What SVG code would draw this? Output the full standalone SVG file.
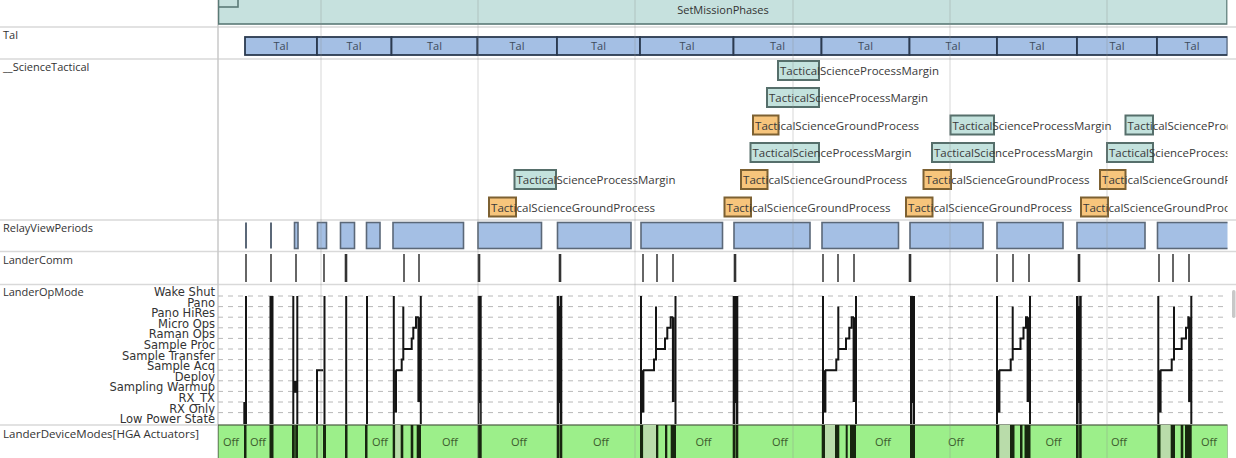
<svg xmlns="http://www.w3.org/2000/svg" width="1236" height="458" viewBox="0 0 1236 458">
<defs>
<clipPath id="plot"><rect x="218" y="-5" width="1009.5" height="470"/></clipPath>
<style>
.lbl{font-family:"Open Sans","Liberation Sans",sans-serif;font-size:11px;fill:#333}
.st{font-family:"DejaVu Sans","Liberation Sans",sans-serif;font-size:11.5px;fill:#333;text-anchor:end}
.sep{stroke:#d9d9d9;stroke-width:1.5}
.tal rect{fill:#a4bfe4;stroke:#2b3a4f;stroke-width:1.8}
.tal text{font-family:"Open Sans","Liberation Sans",sans-serif;font-size:11px;fill:#3d4b5c;text-anchor:middle}
.tm{fill:#c3e2dd;stroke:#566f6b;stroke-width:2}
.tg{fill:#f7c57c;stroke:#7d6132;stroke-width:2}
.bt{font-family:"Open Sans","Liberation Sans",sans-serif;font-size:11px;fill:#3a3a3a}
.rv{fill:#a4bfe4;stroke:#5b6878;stroke-width:1.6}
.rl{stroke:#5b6878;stroke-width:2}
.ck{stroke:#666;stroke-width:2}
.ckd{stroke:#333;stroke-width:2.6}
.dash{stroke:#b8b8b8;stroke-width:1;stroke-dasharray:5 5}
.op{stroke:#151515;stroke-width:2;fill:none}
.opt{stroke:#151515;stroke-width:2.8;fill:none}
.blk{fill:#151515}
.dk{fill:#17260f}
.lt{fill:#b9dcaa}
.inl{stroke:#9a9a9a;stroke-width:1}
.ing{stroke:#4f7a40;stroke-width:1}
.off{font-family:"Open Sans","Liberation Sans",sans-serif;font-size:11px;fill:#3b5a2c;text-anchor:middle}
.grid{stroke:#8a8a8a;stroke-opacity:0.35;stroke-width:1}
</style>
</defs>
<rect x="0" y="0" width="1236" height="458" fill="#ffffff"/>

<!-- row separators and label column -->
<g id="frame">
<line class="sep" x1="0" y1="27" x2="1236" y2="27"/>
<line class="sep" x1="0" y1="59" x2="1236" y2="59"/>
<line class="sep" x1="0" y1="220" x2="1236" y2="220"/>
<line class="sep" x1="0" y1="251.5" x2="1236" y2="251.5"/>
<line class="sep" x1="0" y1="284.5" x2="1236" y2="284.5"/>
<line class="sep" x1="0" y1="425" x2="218" y2="425"/>
<line x1="218" y1="0" x2="218" y2="458" stroke="#c8c8c8" stroke-width="1.5"/>
</g>

<g id="row-labels">
<text class="lbl" x="3" y="39">Tal</text>
<text class="lbl" x="3" y="71">__ScienceTactical</text>
<text class="lbl" x="3" y="232">RelayViewPeriods</text>
<text class="lbl" x="3" y="264">LanderComm</text>
<text class="lbl" x="3" y="296">LanderOpMode</text>
<text class="lbl" x="3" y="438" textLength="196" lengthAdjust="spacingAndGlyphs">LanderDeviceModes[HGA Actuators]</text>
</g>

<g id="state-labels">
<text class="st" x="215" y="296">Wake Shut</text>
<text class="st" x="215" y="306.6">Pano</text>
<text class="st" x="215" y="317.2">Pano HiRes</text>
<text class="st" x="215" y="327.8">Micro Ops</text>
<text class="st" x="215" y="338.4">Raman Ops</text>
<text class="st" x="215" y="349">Sample Proc</text>
<text class="st" x="215" y="359.6">Sample Transfer</text>
<text class="st" x="215" y="370.2">Sample Acq</text>
<text class="st" x="215" y="380.8">Deploy</text>
<text class="st" x="215" y="391.4">Sampling Warmup</text>
<text class="st" x="215" y="402">RX_TX</text>
<text class="st" x="215" y="412.6">RX Only</text>
<text class="st" x="215" y="423.2">Low Power State</text>
</g>

<g clip-path="url(#plot)">
<!-- SetMissionPhases -->
<g id="setmissionphases">
<rect x="218.5" y="-3" width="1008.5" height="27" fill="#c6e1de" stroke="#5a7a76" stroke-width="1.6"/>
<rect x="218.5" y="-3" width="19.5" height="10" fill="#c6e1de" stroke="#5a7a76" stroke-width="1.6"/>
<text class="lbl" x="723" y="14" text-anchor="middle">SetMissionPhases</text>
</g>

<!-- Tal -->
<g id="tal" class="tal">
<g id="tal-1"><rect x="245" y="37" width="72" height="18"/><text x="281" y="50">Tal</text></g>
<g id="tal-2"><rect x="317" y="37" width="74.5" height="18"/><text x="354" y="50">Tal</text></g>
<g id="tal-3"><rect x="391.5" y="37" width="86" height="18"/><text x="434.5" y="50">Tal</text></g>
<g id="tal-4"><rect x="477.5" y="37" width="79.5" height="18"/><text x="517" y="50">Tal</text></g>
<g id="tal-5"><rect x="557" y="37" width="83" height="18"/><text x="598.5" y="50">Tal</text></g>
<g id="tal-6"><rect x="640" y="37" width="93.5" height="18"/><text x="687" y="50">Tal</text></g>
<g id="tal-7"><rect x="733.5" y="37" width="88" height="18"/><text x="777.5" y="50">Tal</text></g>
<g id="tal-8"><rect x="821.5" y="37" width="88" height="18"/><text x="865.5" y="50">Tal</text></g>
<g id="tal-9"><rect x="909.5" y="37" width="87.5" height="18"/><text x="953" y="50">Tal</text></g>
<g id="tal-10"><rect x="997" y="37" width="80" height="18"/><text x="1037" y="50">Tal</text></g>
<g id="tal-11"><rect x="1077" y="37" width="80" height="18"/><text x="1117" y="50">Tal</text></g>
<g id="tal-12"><rect x="1157" y="37" width="70.5" height="18"/><text x="1192" y="50">Tal</text></g>
</g>

<!-- ScienceTactical -->
<g id="science-tactical">
<g id="stm-1"><rect class="tm" x="778" y="61" width="41" height="19"/><text class="bt" x="780" y="75" textLength="159" lengthAdjust="spacingAndGlyphs">TacticalScienceProcessMargin</text></g>
<g id="stm-2"><rect class="tm" x="767" y="88" width="52" height="19"/><text class="bt" x="769" y="102" textLength="159" lengthAdjust="spacingAndGlyphs">TacticalScienceProcessMargin</text></g>
<g id="stg-1"><rect class="tg" x="753" y="115.5" width="25.5" height="19"/><text class="bt" x="755" y="129.5" textLength="164" lengthAdjust="spacingAndGlyphs">TacticalScienceGroundProcess</text></g>
<g id="stm-3"><rect class="tm" x="950.5" y="115.5" width="43.5" height="19"/><text class="bt" x="952.5" y="129.5" textLength="159" lengthAdjust="spacingAndGlyphs">TacticalScienceProcessMargin</text></g>
<g id="stm-4"><rect class="tm" x="1125.5" y="115.5" width="27.5" height="19"/><text class="bt" x="1127.5" y="129.5" textLength="159" lengthAdjust="spacingAndGlyphs">TacticalScienceProcessMargin</text></g>
<g id="stm-5"><rect class="tm" x="750.5" y="143" width="68.5" height="19"/><text class="bt" x="752.5" y="157" textLength="159" lengthAdjust="spacingAndGlyphs">TacticalScienceProcessMargin</text></g>
<g id="stm-6"><rect class="tm" x="932" y="143" width="62" height="19"/><text class="bt" x="934" y="157" textLength="159" lengthAdjust="spacingAndGlyphs">TacticalScienceProcessMargin</text></g>
<g id="stm-7"><rect class="tm" x="1107" y="143" width="46" height="19"/><text class="bt" x="1109" y="157" textLength="159" lengthAdjust="spacingAndGlyphs">TacticalScienceProcessMargin</text></g>
<g id="stm-8"><rect class="tm" x="514.5" y="170" width="41.5" height="19"/><text class="bt" x="516.5" y="184" textLength="159" lengthAdjust="spacingAndGlyphs">TacticalScienceProcessMargin</text></g>
<g id="stg-2"><rect class="tg" x="741" y="170" width="26.5" height="19"/><text class="bt" x="743" y="184" textLength="164" lengthAdjust="spacingAndGlyphs">TacticalScienceGroundProcess</text></g>
<g id="stg-3"><rect class="tg" x="923.5" y="170" width="27.5" height="19"/><text class="bt" x="925.5" y="184" textLength="164" lengthAdjust="spacingAndGlyphs">TacticalScienceGroundProcess</text></g>
<g id="stg-4"><rect class="tg" x="1100" y="170" width="25.5" height="19"/><text class="bt" x="1102" y="184" textLength="164" lengthAdjust="spacingAndGlyphs">TacticalScienceGroundProcess</text></g>
<g id="stg-5"><rect class="tg" x="489" y="197.5" width="27" height="19"/><text class="bt" x="491" y="211.5" textLength="164" lengthAdjust="spacingAndGlyphs">TacticalScienceGroundProcess</text></g>
<g id="stg-6"><rect class="tg" x="724.5" y="197.5" width="26.5" height="19"/><text class="bt" x="726.5" y="211.5" textLength="164" lengthAdjust="spacingAndGlyphs">TacticalScienceGroundProcess</text></g>
<g id="stg-7"><rect class="tg" x="906" y="197.5" width="26.5" height="19"/><text class="bt" x="908" y="211.5" textLength="164" lengthAdjust="spacingAndGlyphs">TacticalScienceGroundProcess</text></g>
<g id="stg-8"><rect class="tg" x="1081" y="197.5" width="27" height="19"/><text class="bt" x="1083" y="211.5" textLength="164" lengthAdjust="spacingAndGlyphs">TacticalScienceGroundProcess</text></g>
</g>

<!-- RelayViewPeriods -->
<g id="relay-view-periods">
<line class="rl" x1="246" y1="222.5" x2="246" y2="248.5"/>
<line class="rl" x1="271" y1="222.5" x2="271" y2="248.5"/>
<rect class="rv" x="294.5" y="222.5" width="3.5" height="26"/>
<rect class="rv" x="317.5" y="222.5" width="9" height="26"/>
<rect class="rv" x="340.5" y="222.5" width="14" height="26"/>
<rect class="rv" x="366.5" y="222.5" width="13.5" height="26"/>
<rect class="rv" x="393" y="222.5" width="70.5" height="26"/>
<rect class="rv" x="478" y="222.5" width="63.5" height="26"/>
<rect class="rv" x="557.5" y="222.5" width="73.5" height="26"/>
<rect class="rv" x="641" y="222.5" width="81.5" height="26"/>
<rect class="rv" x="734" y="222.5" width="76" height="26"/>
<rect class="rv" x="822" y="222.5" width="76.5" height="26"/>
<rect class="rv" x="910" y="222.5" width="73" height="26"/>
<rect class="rv" x="997" y="222.5" width="66" height="26"/>
<rect class="rv" x="1077" y="222.5" width="68" height="26"/>
<rect class="rv" x="1157.5" y="222.5" width="72" height="26"/>
</g>

<!-- LanderComm -->
<g id="lander-comm">
<line class="ck" x1="246" y1="254" x2="246" y2="282"/>
<line class="ck" x1="271" y1="254" x2="271" y2="282"/>
<line class="ck" x1="296" y1="254" x2="296" y2="282"/>
<line class="ck" x1="324" y1="254" x2="324" y2="282"/>
<line class="ckd" x1="346" y1="254" x2="346" y2="282"/>
<line class="ck" x1="404" y1="254" x2="404" y2="282"/>
<line class="ck" x1="419" y1="254" x2="419" y2="282"/>
<line class="ckd" x1="479" y1="254" x2="479" y2="282"/>
<line class="ckd" x1="560" y1="254" x2="560" y2="282"/>
<line class="ck" x1="643" y1="254" x2="643" y2="282"/>
<line class="ck" x1="657" y1="254" x2="657" y2="282"/>
<line class="ck" x1="673" y1="254" x2="673" y2="282"/>
<line class="ckd" x1="735" y1="254" x2="735" y2="282"/>
<line class="ck" x1="823" y1="254" x2="823" y2="282"/>
<line class="ck" x1="838" y1="254" x2="838" y2="282"/>
<line class="ck" x1="854" y1="254" x2="854" y2="282"/>
<line class="ckd" x1="910" y1="254" x2="910" y2="282"/>
<line class="ck" x1="997" y1="254" x2="997" y2="282"/>
<line class="ck" x1="1013" y1="254" x2="1013" y2="282"/>
<line class="ck" x1="1029" y1="254" x2="1029" y2="282"/>
<line class="ckd" x1="1079" y1="254" x2="1079" y2="282"/>
<line class="ck" x1="1159" y1="254" x2="1159" y2="282"/>
<line class="ck" x1="1173" y1="254" x2="1173" y2="282"/>
<line class="ck" x1="1189" y1="254" x2="1189" y2="282"/>
</g>

<!-- LanderOpMode grid -->
<g id="opmode-grid">
<line class="dash" x1="218" y1="296" x2="1228" y2="296"/>
<line class="dash" x1="218" y1="306.6" x2="1228" y2="306.6"/>
<line class="dash" x1="218" y1="317.2" x2="1228" y2="317.2"/>
<line class="dash" x1="218" y1="327.8" x2="1228" y2="327.8"/>
<line class="dash" x1="218" y1="338.4" x2="1228" y2="338.4"/>
<line class="dash" x1="218" y1="349" x2="1228" y2="349"/>
<line class="dash" x1="218" y1="359.6" x2="1228" y2="359.6"/>
<line class="dash" x1="218" y1="370.2" x2="1228" y2="370.2"/>
<line class="dash" x1="218" y1="380.8" x2="1228" y2="380.8"/>
<line class="dash" x1="218" y1="391.4" x2="1228" y2="391.4"/>
<line class="dash" x1="218" y1="402" x2="1228" y2="402"/>
<line class="dash" x1="218" y1="412.6" x2="1228" y2="412.6"/>
</g>

<!-- LanderDeviceModes -->
<g id="lander-device-modes">
<rect x="218" y="425" width="1010" height="36" fill="#9cef8a" stroke="#4a5a40" stroke-width="1.2"/>
<rect class="dk" x="244" y="425" width="2.5" height="33"/>
<rect class="dk" x="269.5" y="425" width="4" height="33"/>
<rect class="dk" x="292" y="425" width="6" height="33"/>
<rect x="316" y="425" width="2" height="33" fill="#6a9a5a"/>
<rect class="dk" x="323" y="425" width="3" height="33"/>
<rect class="dk" x="345" y="425" width="2.5" height="33"/>
<rect class="dk" x="365" y="425" width="2.5" height="33"/>
<rect class="dk" x="392.7" y="425" width="2.6" height="33"/>
<rect class="lt" x="395.3" y="425" width="5.4" height="33"/>
<rect class="dk" x="400.7" y="425" width="2.6" height="33"/>
<rect class="dk" x="410.7" y="425" width="2.6" height="33"/>
<rect class="dk" x="416.7" y="425" width="4.3" height="33"/>
<rect class="dk" x="477.7" y="425" width="4" height="33"/>
<rect class="dk" x="556.7" y="425" width="5.6" height="33"/>
<rect class="dk" x="640" y="425" width="3.3" height="33"/>
<rect class="lt" x="643.3" y="425" width="12.7" height="33"/>
<rect class="dk" x="656" y="425" width="2.3" height="33"/>
<rect class="dk" x="665" y="425" width="2.3" height="33"/>
<rect class="dk" x="670.7" y="425" width="5.3" height="33"/>
<rect class="dk" x="732.7" y="425" width="5.6" height="33"/>
<rect class="dk" x="821.7" y="425" width="3.3" height="33"/>
<rect class="lt" x="825" y="425" width="10" height="33"/>
<rect class="dk" x="835" y="425" width="4.3" height="33"/>
<rect class="dk" x="845.7" y="425" width="2" height="33"/>
<rect class="dk" x="850" y="425" width="6" height="33"/>
<rect class="dk" x="910" y="425" width="5" height="33"/>
<rect class="dk" x="996" y="425" width="3.5" height="33"/>
<rect class="lt" x="999.5" y="425" width="10.5" height="33"/>
<rect class="dk" x="1010" y="425" width="4.5" height="33"/>
<rect class="dk" x="1020" y="425" width="2.5" height="33"/>
<rect class="dk" x="1024.5" y="425" width="6" height="33"/>
<rect class="dk" x="1076" y="425" width="5.7" height="33"/>
<rect class="dk" x="1157.3" y="425" width="3.4" height="33"/>
<rect class="lt" x="1160.7" y="425" width="10" height="33"/>
<rect class="dk" x="1170.7" y="425" width="4.3" height="33"/>
<rect class="dk" x="1180.7" y="425" width="2.6" height="33"/>
<rect class="dk" x="1185" y="425" width="6.7" height="33"/>
<line class="ing" x1="295" y1="425" x2="295" y2="458"/>
<line class="ing" x1="559.5" y1="425" x2="559.5" y2="458"/>
<line class="ing" x1="735.5" y1="425" x2="735.5" y2="458"/>
<line class="ing" x1="1078.8" y1="425" x2="1078.8" y2="458"/>
<text class="off" x="231" y="446">Off</text>
<text class="off" x="258" y="446">Off</text>
<text class="off" x="380" y="446">Off</text>
<text class="off" x="450" y="446">Off</text>
<text class="off" x="519" y="446">Off</text>
<text class="off" x="601" y="446">Off</text>
<text class="off" x="703.5" y="446">Off</text>
<text class="off" x="780" y="446">Off</text>
<text class="off" x="883" y="446">Off</text>
<text class="off" x="956" y="446">Off</text>
<text class="off" x="1053.5" y="446">Off</text>
<text class="off" x="1119" y="446">Off</text>
<text class="off" x="1209" y="446">Off</text>
</g>

<!-- LanderOpMode traces -->
<g id="connectors">
<line class="op" x1="246" y1="296" x2="246" y2="424" stroke-width="1.6"/>
<line class="op" x1="244.3" y1="402" x2="244.3" y2="424" stroke-width="1.6"/>
<rect class="blk" x="269.5" y="296" width="4" height="128"/>
<line class="op" x1="293.3" y1="296" x2="293.3" y2="424" stroke-width="1.6"/>
<line class="op" x1="297.3" y1="296" x2="297.3" y2="424" stroke-width="1.6"/>
<rect class="blk" x="293.3" y="380.8" width="4" height="12"/>
<path class="op" d="M317 424 V370.2 H323" stroke-width="1.6"/>
<line class="op" x1="324.5" y1="296" x2="324.5" y2="424"/>
<line class="op" x1="346.2" y1="296" x2="346.2" y2="424" stroke-width="2.6"/>
<line class="op" x1="367" y1="296" x2="367" y2="424" stroke-width="1.8"/>

<line class="op" x1="393.8" y1="296" x2="393.8" y2="424"/>
<line class="opt" x1="395.6" y1="370.2" x2="395.6" y2="412.6"/>
<path class="op" d="M395.6 370.2 H401.7 V359.6 H403.3 V306.6 V349 H411.7 V338.4 H413.3 V327.8 H416 V317.2 H418.8" stroke-width="1.6"/>
<line class="opt" x1="418.8" y1="317.2" x2="418.8" y2="402"/>
<line class="op" x1="420.8" y1="296" x2="420.8" y2="424"/>

<rect class="blk" x="477.7" y="296" width="4" height="128"/>
<line class="inl" x1="479.7" y1="403" x2="479.7" y2="424"/>
<rect class="blk" x="556.7" y="296" width="5.6" height="128"/>
<line class="inl" x1="559.5" y1="296" x2="559.5" y2="306"/>
<line class="inl" x1="559.5" y1="403" x2="559.5" y2="424"/>

<line class="op" x1="641" y1="296" x2="641" y2="424"/>
<line class="opt" x1="643" y1="370.2" x2="643" y2="412.6"/>
<path class="op" d="M643 370.2 H654 V359.6 H656 V306.6 V349 H665 V338.4 H667.3 V327.8 H670.7 V317.2 H673.3" stroke-width="1.6"/>
<line class="opt" x1="673.3" y1="317.2" x2="673.3" y2="402"/>
<line class="op" x1="675.5" y1="296" x2="675.5" y2="424"/>

<rect class="blk" x="732.7" y="296" width="5.6" height="128"/>
<line class="inl" x1="735.5" y1="403" x2="735.5" y2="424"/>

<line class="op" x1="823" y1="296" x2="823" y2="424"/>
<line class="opt" x1="825" y1="370.2" x2="825" y2="412.6"/>
<path class="op" d="M825 370.2 H836.3 V359.6 H838.3 V306.6 V349 H846 V338.4 H849.3 V327.8 H851.7 V317.2 H854" stroke-width="1.6"/>
<line class="opt" x1="854" y1="317.2" x2="854" y2="402"/>
<line class="op" x1="856" y1="296" x2="856" y2="424"/>

<rect class="blk" x="910" y="296" width="5" height="128"/>
<line class="inl" x1="912.5" y1="403" x2="912.5" y2="424"/>

<line class="op" x1="997" y1="296" x2="997" y2="424"/>
<line class="opt" x1="999" y1="370.2" x2="999" y2="412.6"/>
<path class="op" d="M999 370.2 H1010.7 V359.6 H1012.7 V306.6 V349 H1020.5 V338.4 H1023.5 V327.8 H1026 V317.2 H1028" stroke-width="1.6"/>
<line class="opt" x1="1028" y1="317.2" x2="1028" y2="402"/>
<line class="op" x1="1030" y1="296" x2="1030" y2="424"/>

<rect class="blk" x="1076" y="296" width="5.7" height="128"/>
<line class="inl" x1="1078.8" y1="296" x2="1078.8" y2="306"/>
<line class="inl" x1="1078.8" y1="403" x2="1078.8" y2="424"/>

<line class="op" x1="1158.3" y1="296" x2="1158.3" y2="424"/>
<line class="opt" x1="1160.2" y1="370.2" x2="1160.2" y2="412.6"/>
<path class="op" d="M1160.2 370.2 H1171.7 V359.6 H1174 V306.6 V349 H1181.7 V338.4 H1186 V327.8 H1188.3 V317.2 H1189.5" stroke-width="1.6"/>
<line class="opt" x1="1189.5" y1="317.2" x2="1189.5" y2="402"/>
<line class="op" x1="1191.3" y1="296" x2="1191.3" y2="424"/>
</g>

<!-- vertical time grid -->
<g id="time-grid">
<line class="grid" x1="321" y1="0" x2="321" y2="458"/>
<line class="grid" x1="478" y1="0" x2="478" y2="458"/>
<line class="grid" x1="635" y1="0" x2="635" y2="458"/>
<line class="grid" x1="793" y1="0" x2="793" y2="458"/>
<line class="grid" x1="950" y1="0" x2="950" y2="458"/>
<line class="grid" x1="1107" y1="0" x2="1107" y2="458"/>
</g>
</g>

<rect x="1232" y="290" width="3.5" height="28" rx="1.7" fill="#c8c8c8"/>
</svg>
